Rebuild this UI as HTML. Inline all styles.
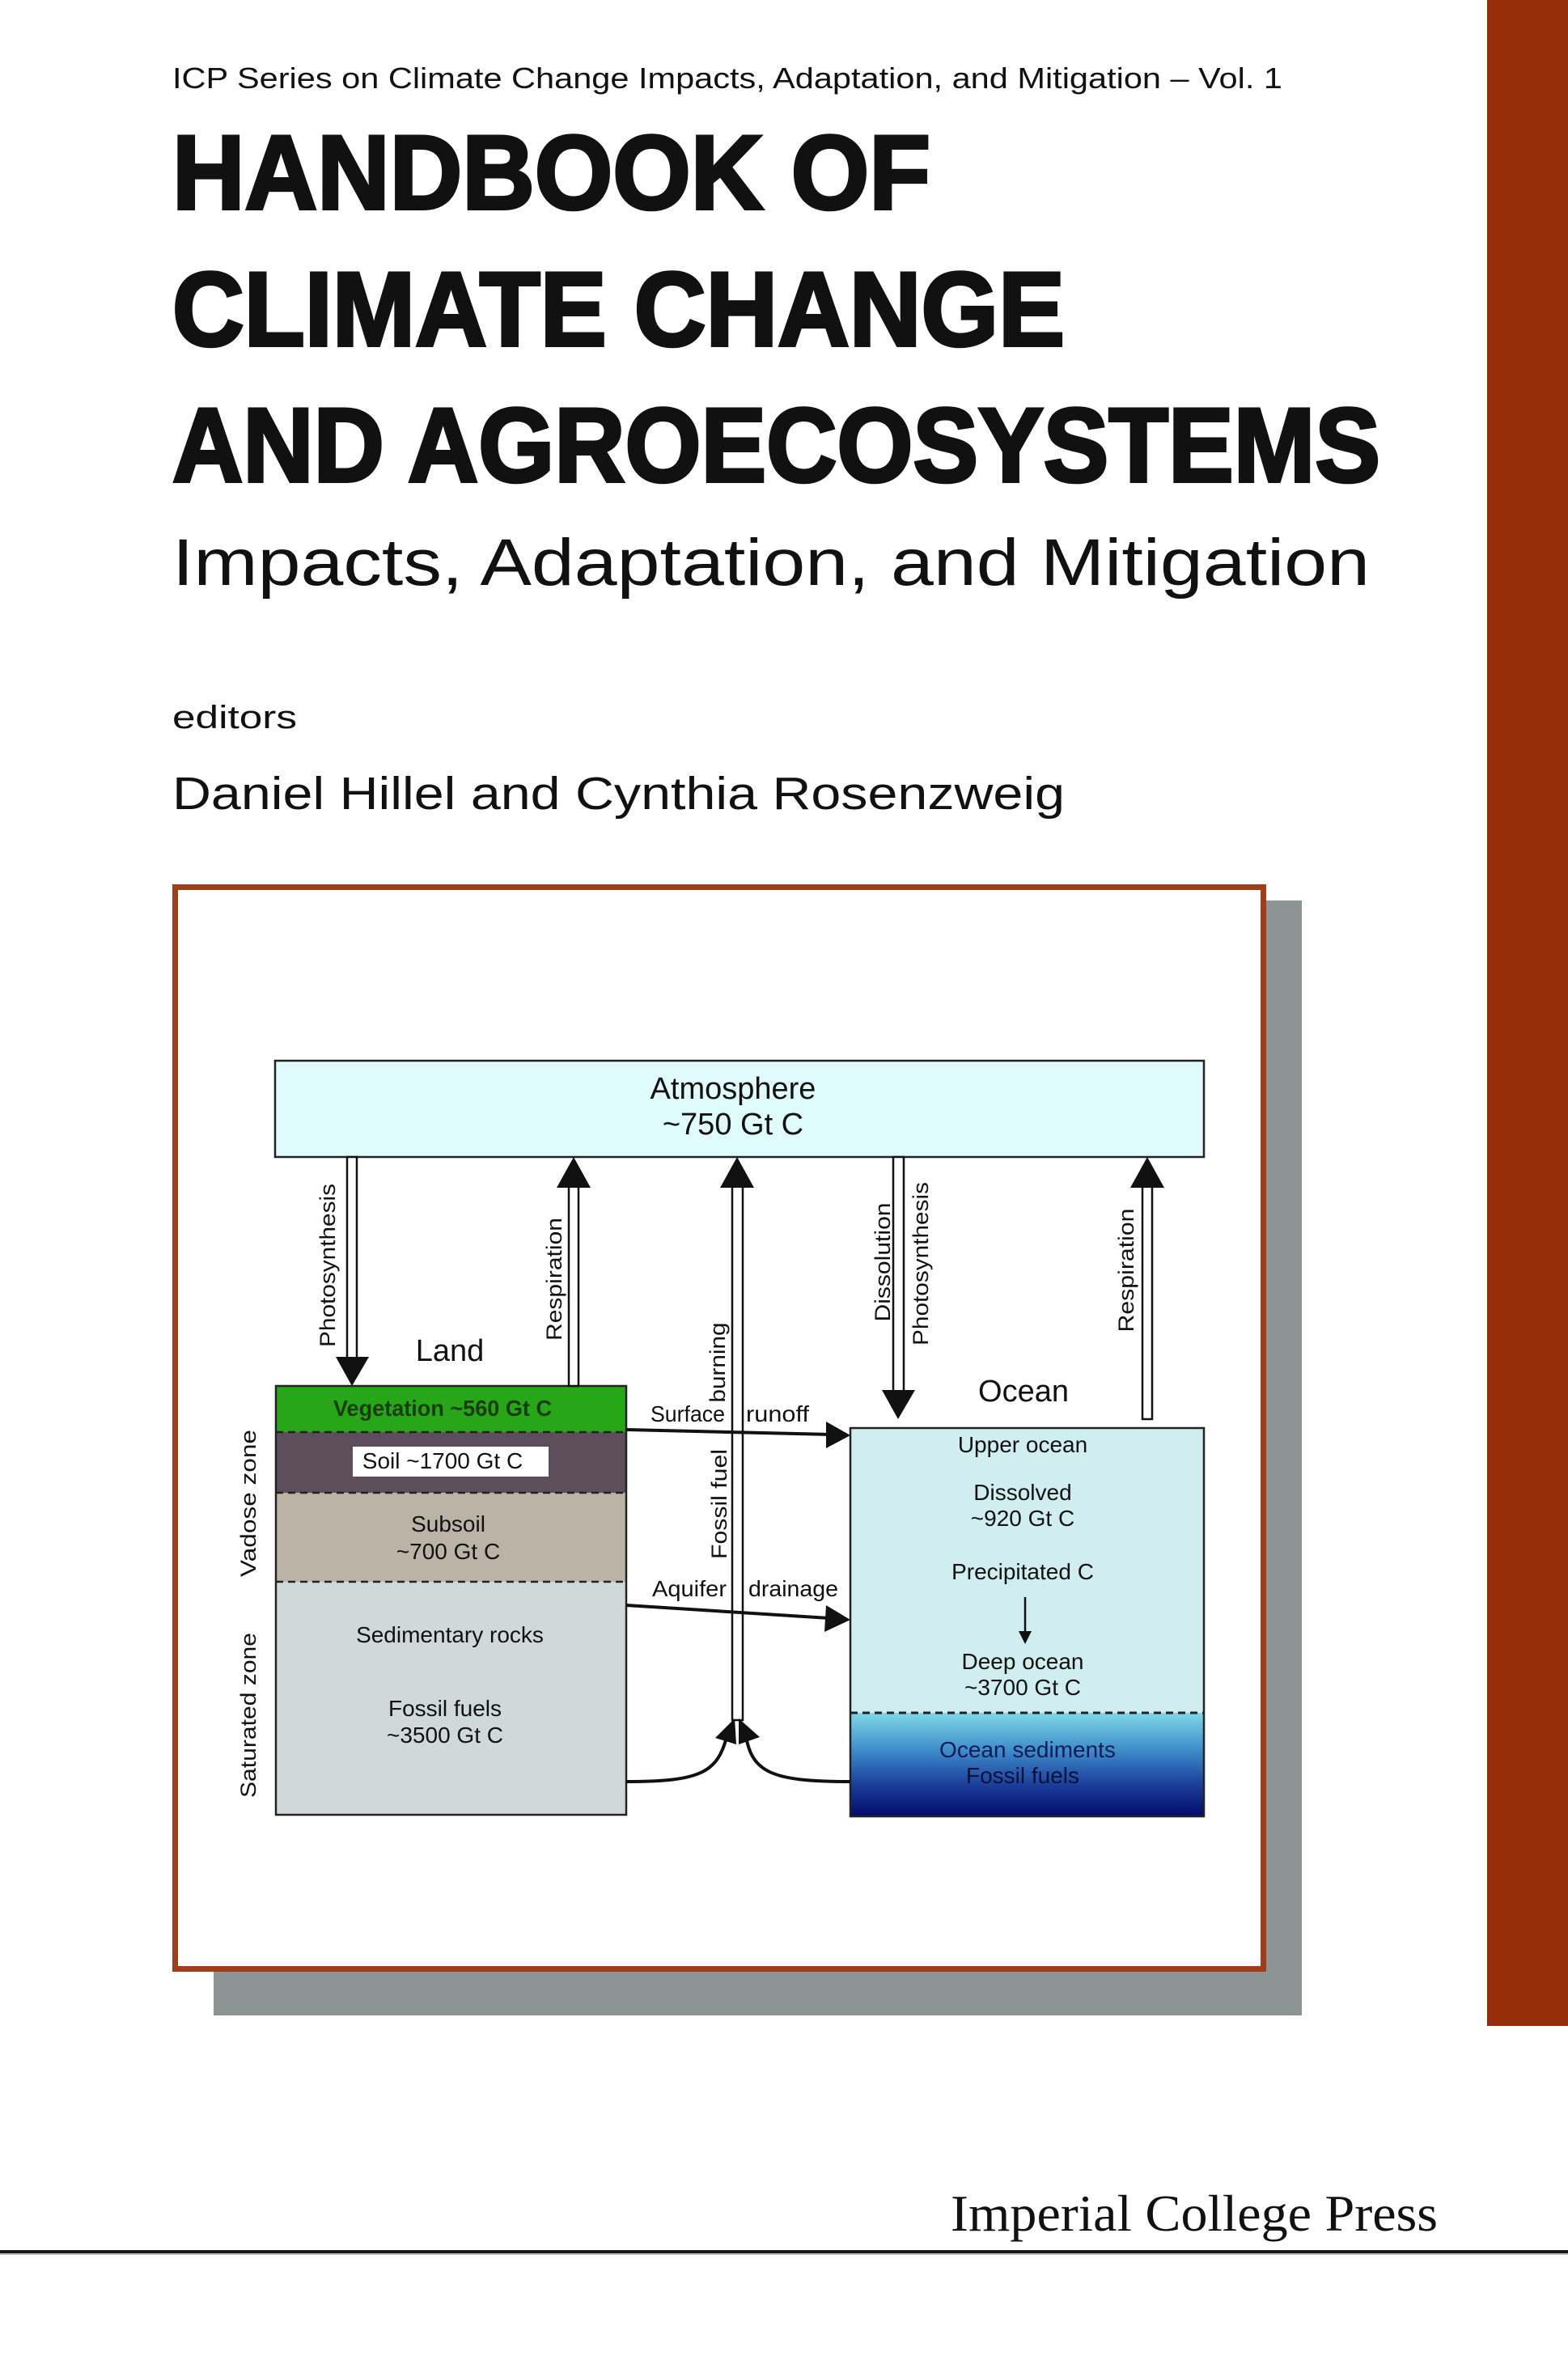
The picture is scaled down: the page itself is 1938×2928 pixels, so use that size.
<!DOCTYPE html>
<html><head><meta charset="utf-8"><style>html,body{margin:0;padding:0;background:#fff}svg{display:block}</style></head>
<body>
<svg width="1938" height="2928" viewBox="0 0 1938 2928" xmlns="http://www.w3.org/2000/svg" font-family="Liberation Sans, Arial, sans-serif">
<defs>
<linearGradient id="sed" x1="0" y1="0" x2="0" y2="1">
<stop offset="0" stop-color="#7fd8e6"/><stop offset="0.35" stop-color="#3f8fcc"/><stop offset="0.7" stop-color="#1b3d9a"/><stop offset="1" stop-color="#020a6a"/>
</linearGradient>
</defs>
<rect x="0" y="0" width="1938" height="2928" fill="#fff"/>
<rect x="1838" y="0" width="100" height="2504" fill="#952e08"/>
<text x="213" y="109" font-size="36" fill="#111" textLength="1372" lengthAdjust="spacingAndGlyphs">ICP Series on Climate Change Impacts, Adaptation, and Mitigation – Vol. 1</text>
<g font-weight="bold" font-size="130" fill="#111" stroke="#111" stroke-width="4">
<text x="213" y="258" textLength="937" lengthAdjust="spacingAndGlyphs">HANDBOOK OF</text>
<text x="213" y="427" textLength="1103" lengthAdjust="spacingAndGlyphs">CLIMATE CHANGE</text>
<text x="213" y="595" textLength="1493" lengthAdjust="spacingAndGlyphs">AND AGROECOSYSTEMS</text>
</g>
<text x="213" y="723" font-size="82" fill="#111" textLength="1480" lengthAdjust="spacingAndGlyphs">Impacts, Adaptation, and Mitigation</text>
<text x="213" y="900" font-size="40" fill="#111" textLength="154" lengthAdjust="spacingAndGlyphs">editors</text>
<text x="213" y="1000" font-size="57" fill="#111" textLength="1103" lengthAdjust="spacingAndGlyphs">Daniel Hillel and Cynthia Rosenzweig</text>
<rect x="264" y="1113" width="1345" height="1378" fill="#8c9593"/>
<rect x="216.5" y="1096.5" width="1345" height="1337" fill="#fff" stroke="#a23d1a" stroke-width="7"/>
<rect x="340" y="1311" width="1148" height="119" fill="#e0fbfb" stroke="#222" stroke-width="2.5"/>
<g font-size="38" fill="#111" text-anchor="middle">
<text x="906" y="1358">Atmosphere</text>
<text x="906" y="1402">~750 Gt C</text>
<text x="556" y="1682">Land</text>
<text x="1265" y="1732">Ocean</text>
</g>
<rect x="341" y="1713" width="433" height="57" fill="#27a718"/>
<rect x="341" y="1770" width="433" height="75" fill="#5d4e5b"/>
<rect x="341" y="1845" width="433" height="110" fill="#bbb4a6"/>
<rect x="341" y="1955" width="433" height="288" fill="#cfd9d9"/>
<rect x="341" y="1713" width="433" height="530" fill="none" stroke="#222" stroke-width="2.5"/>
<g stroke="#222" stroke-width="2.5" stroke-dasharray="9,6">
<line x1="341" y1="1770" x2="774" y2="1770"/>
<line x1="341" y1="1845" x2="774" y2="1845"/>
<line x1="341" y1="1955" x2="774" y2="1955"/>
</g>
<rect x="436" y="1788" width="242" height="37" fill="#fff"/>
<g font-size="28" fill="#111" text-anchor="middle">
<text x="547" y="1750" fill="#173d0c" font-weight="bold" textLength="270" lengthAdjust="spacingAndGlyphs">Vegetation ~560 Gt C</text>
<text x="547" y="1815">Soil ~1700 Gt C</text>
<text x="554" y="1893">Subsoil</text>
<text x="554" y="1927">~700 Gt C</text>
<text x="556" y="2030">Sedimentary rocks</text>
<text x="550" y="2121">Fossil fuels</text>
<text x="550" y="2154">~3500 Gt C</text>
</g>
<rect x="1051" y="1765" width="437" height="352" fill="#d0eef0"/>
<rect x="1051" y="2117" width="437" height="128" fill="url(#sed)"/>
<rect x="1051" y="1765" width="437" height="480" fill="none" stroke="#222" stroke-width="2.5"/>
<line x1="1051" y1="2117" x2="1488" y2="2117" stroke="#222" stroke-width="3" stroke-dasharray="9,6"/>
<g font-size="28" fill="#111" text-anchor="middle">
<text x="1264" y="1795">Upper ocean</text>
<text x="1264" y="1854">Dissolved</text>
<text x="1264" y="1886">~920 Gt C</text>
<text x="1264" y="1952">Precipitated C</text>
<text x="1264" y="2063">Deep ocean</text>
<text x="1264" y="2095">~3700 Gt C</text>
<text x="1270" y="2172" fill="#0a1a55">Ocean sediments</text>
<text x="1264" y="2204" fill="#05103a">Fossil fuels</text>
</g>
<line x1="1267" y1="1974" x2="1267" y2="2020" stroke="#111" stroke-width="2.5"/>
<polygon points="1259,2016 1275,2016 1267,2032" fill="#111"/>
<g fill="#fff" stroke="#111" stroke-width="2.5">
<rect x="429" y="1430" width="12" height="250"/>
<rect x="703" y="1466" width="12" height="247"/>
<rect x="905" y="1466" width="13" height="660"/>
<rect x="1104" y="1430" width="13" height="290"/>
<rect x="1412" y="1466" width="12" height="288"/>
</g>
<g fill="#111">
<polygon points="415,1677 456,1677 435,1713"/>
<polygon points="688,1468 730,1468 709,1430"/>
<polygon points="890,1468 932,1468 911,1430"/>
<polygon points="1090,1718 1131,1718 1110,1754"/>
<polygon points="1397,1468 1439,1468 1418,1430"/>
</g>
<g stroke="#111" stroke-width="4" fill="none">
<line x1="774" y1="1767" x2="1025" y2="1773"/>
<line x1="774" y1="1984" x2="1025" y2="2000"/>
<path d="M774,2202 C870,2202 888,2190 900,2140"/>
<path d="M1051,2202 C950,2202 928,2190 921,2140"/>
</g>
<g fill="#111">
<polygon points="1021,1757 1051,1774 1021,1790"/>
<polygon points="1021,1984 1051,2002 1019,2017"/>
<polygon points="884,2148 908,2124 910,2156"/>
<polygon points="913,2124 939,2147 913,2156"/>
</g>
<g font-size="28" fill="#111">
<text x="804" y="1757" textLength="92" lengthAdjust="spacingAndGlyphs">Surface</text>
<text x="922" y="1757" textLength="78" lengthAdjust="spacingAndGlyphs">runoff</text>
<text x="806" y="1973" textLength="92" lengthAdjust="spacingAndGlyphs">Aquifer</text>
<text x="925" y="1973" textLength="111" lengthAdjust="spacingAndGlyphs">drainage</text>
</g>
<g font-size="27" fill="#111" text-anchor="middle">
<text transform="translate(414,1564) rotate(-90)" textLength="202" lengthAdjust="spacingAndGlyphs">Photosynthesis</text>
<text transform="translate(694,1581) rotate(-90)" textLength="152" lengthAdjust="spacingAndGlyphs">Respiration</text>
<text transform="translate(896,1684) rotate(-90)" textLength="99" lengthAdjust="spacingAndGlyphs">burning</text>
<text transform="translate(898,1859) rotate(-90)" textLength="136" lengthAdjust="spacingAndGlyphs">Fossil fuel</text>
<text transform="translate(1100,1560) rotate(-90)" textLength="147" lengthAdjust="spacingAndGlyphs">Dissolution</text>
<text transform="translate(1147,1562) rotate(-90)" textLength="202" lengthAdjust="spacingAndGlyphs">Photosynthesis</text>
<text transform="translate(1401,1570) rotate(-90)" textLength="153" lengthAdjust="spacingAndGlyphs">Respiration</text>
<text transform="translate(316,1858) rotate(-90)" textLength="182" lengthAdjust="spacingAndGlyphs">Vadose   zone</text>
<text transform="translate(316,2120) rotate(-90)" textLength="204" lengthAdjust="spacingAndGlyphs">Saturated zone</text>
</g>
<text x="1175" y="2757" font-family="Liberation Serif, Times New Roman, serif" font-size="64" fill="#111" textLength="602" lengthAdjust="spacingAndGlyphs">Imperial College Press</text>
<rect x="0" y="2781" width="1938" height="4" fill="#1a1a1a"/>
<rect x="0" y="2785" width="1938" height="2" fill="#bbb"/>
</svg>
</body></html>
